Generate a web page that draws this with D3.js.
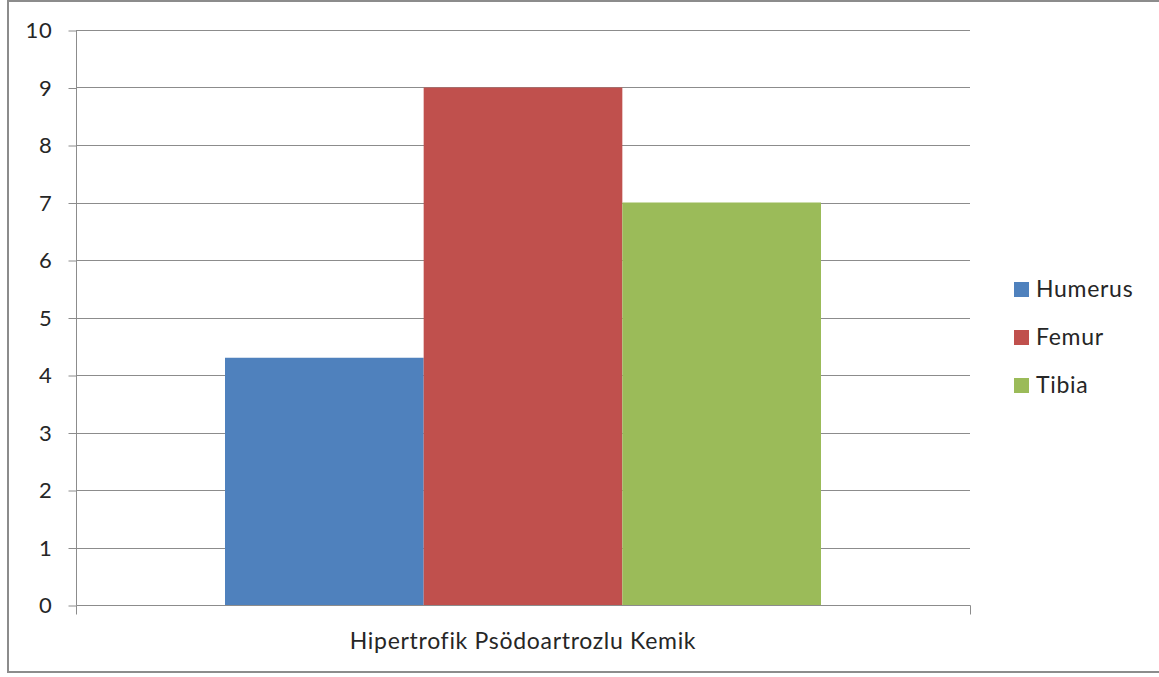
<!DOCTYPE html>
<html>
<head>
<meta charset="utf-8">
<script src="https://cdn.jsdelivr.net/npm/d3@7"></script>
<style>
  html, body { margin: 0; padding: 0; background: #fff; }
  svg { display: block; }
  text { font-family: Lato, "Open Sans", sans-serif; fill: #262626; }
</style>
</head>
<body>
<svg id="chart" width="1159" height="677"></svg>
<script>
// Chart data
const category = "Hipertrofik Psödoartrozlu Kemik";
const seriesNames = ["Humerus", "Femur", "Tibia"];
const seriesValues = [4.3, 9, 7];
const seriesColors = ["#4f81bd", "#c0504d", "#9bbb59"];
const yTicks = [0, 1, 2, 3, 4, 5, 6, 7, 8, 9, 10];

const FONT = "Lato, 'Open Sans', sans-serif";
const svg = d3.select("#chart");

// Outer frame
svg.append("rect")
  .attr("x", 8).attr("y", 1)
  .attr("width", 1160).attr("height", 671)
  .attr("fill", "none").attr("stroke", "#8c8c8c").attr("stroke-width", 2);

const plot = { left: 76, right: 970, top: 30, bottom: 605 };

const y = d3.scaleLinear().domain([0, 10]).range([plot.bottom, plot.top]);
const x0 = d3.scaleBand().domain([category]).range([plot.left, plot.right]).paddingInner(0).paddingOuter(0.25);
const x1 = d3.scaleBand().domain(seriesNames).range([0, x0.bandwidth()]).padding(0);

// Gridlines
svg.append("g")
  .selectAll("line")
  .data(yTicks.filter(d => d > 0))
  .join("line")
  .attr("x1", plot.left).attr("x2", plot.right)
  .attr("y1", d => Math.round(y(d)) + 0.5).attr("y2", d => Math.round(y(d)) + 0.5)
  .attr("stroke", "#8c8c8c").attr("stroke-width", 1);

// Bars
svg.append("g")
  .selectAll("rect")
  .data(seriesNames.map((n, i) => ({ name: n, value: seriesValues[i], color: seriesColors[i] })))
  .join("rect")
  .attr("x", d => x0(category) + x1(d.name))
  .attr("y", d => y(d.value))
  .attr("width", x1.bandwidth())
  .attr("height", d => y(0) - y(d.value))
  .attr("fill", d => d.color);

// Y axis
const yAxis = d3.axisLeft(y).tickValues(yTicks).tickSize(8).tickPadding(16).tickFormat(d3.format("d"));
const gy = svg.append("g").attr("transform", `translate(${plot.left + 0.5},0.5)`).call(yAxis);
gy.attr("font-size", 22).attr("font-family", FONT);
gy.select(".domain").attr("stroke", "#8c8c8c").attr("d", `M0,${plot.top}V${plot.bottom}`);
gy.selectAll(".tick line").attr("stroke", "#8c8c8c");
gy.selectAll(".tick text").attr("fill", "#262626").attr("letter-spacing", 0.8);

// X axis baseline with end ticks
const xAxisG = svg.append("g").attr("transform", "translate(0.5,0.5)");
xAxisG.append("line")
  .attr("x1", plot.left).attr("x2", plot.right)
  .attr("y1", plot.bottom).attr("y2", plot.bottom)
  .attr("stroke", "#8c8c8c");
[plot.left, plot.right].forEach(px => {
  xAxisG.append("line")
    .attr("x1", px).attr("x2", px)
    .attr("y1", plot.bottom).attr("y2", plot.bottom + 9)
    .attr("stroke", "#8c8c8c");
});
svg.append("text")
  .attr("x", (plot.left + plot.right) / 2)
  .attr("y", 649)
  .attr("text-anchor", "middle")
  .attr("font-size", 23)
  .attr("letter-spacing", 0.7)
  .text(category);

// Legend
const legend = svg.append("g").attr("transform", "translate(1014,289)");
seriesNames.forEach((n, i) => {
  const g = legend.append("g").attr("transform", `translate(0,${i * 48})`);
  g.append("rect").attr("x", 0).attr("y", -7).attr("width", 15).attr("height", 15).attr("fill", seriesColors[i]);
  g.append("text").attr("x", 22).attr("y", 0).attr("dy", "0.35em")
    .attr("font-size", 23).attr("letter-spacing", 0.7).text(n);
});
</script>
</body>
</html>
